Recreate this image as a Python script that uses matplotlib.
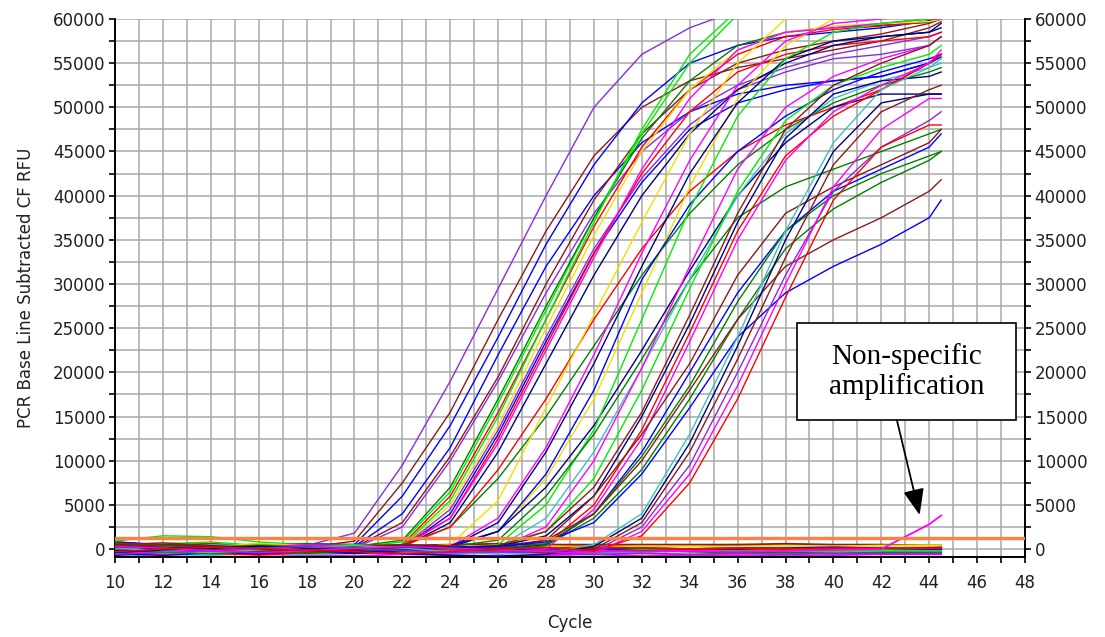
import matplotlib
matplotlib.use("Agg")
import matplotlib.pyplot as plt
from matplotlib.patches import Rectangle
from matplotlib.ticker import MultipleLocator

# shared cycle grid for every trace (in thousands of RFU)
CYCLES = [10, 12, 14, 16, 18, 20, 22, 24, 26, 28, 30, 32, 34, 36, 38, 40, 42, 44, 44.5]

PURPLE, BROWN, BLUE, GREEN, DKGREEN = "#8a2be2", "#8b1a1a", "#0000ff", "#00ee00", "#008000"
RED, YELLOW, MAGENTA, NAVY, CYAN = "#ff0000", "#f0e000", "#ff00ff", "#000080", "#40c0c0"

AMP_COLORS = [
    PURPLE, BROWN, BLUE, BLUE, BROWN, PURPLE, GREEN, DKGREEN, RED, YELLOW,
    GREEN, PURPLE, BLUE, RED, MAGENTA, NAVY, DKGREEN, RED, YELLOW, YELLOW,
    MAGENTA, NAVY, BLUE, NAVY, GREEN, DKGREEN, CYAN, MAGENTA, GREEN, BROWN,
    NAVY, RED, MAGENTA, BLUE, BROWN, DKGREEN, DKGREEN, BROWN, BLUE, CYAN,
    NAVY, BROWN, PURPLE, MAGENTA, RED,
]
AMP_RFU_K = [
    [0.6, 0.3, -0.2, 0.1, 0.4, 1.8, 9.5, 19, 29.5, 40, 50, 56, 59, 61, 62, 62, 62, 62, 62],
    [0.2, 0.5, 0.3, -0.1, 0.2, 0.9, 7.5, 15.5, 26, 36, 44.5, 50, 53, 54.5, 55.5, 56.5, 57.5, 59, 59.7],
    [-0.3, 0.1, 0.4, 0.2, -0.2, 0.5, 6, 14, 24, 34.5, 43.5, 50.5, 55, 57, 58, 58.5, 59, 59.8, 60],
    [0.8, 0.5, 0.2, 0.5, 0.1, 0.3, 4, 11.5, 22, 32, 40, 46, 49.5, 51.5, 52.5, 53, 53.5, 55, 55.7],
    [0.1, -0.4, -0.2, 0.3, 0.5, 0.2, 3, 10.5, 19.5, 30, 39.5, 47, 52, 55, 56.5, 57.5, 58.3, 59.5, 60],
    [-0.5, -0.2, 0.2, 0.6, 0.3, 0.1, 2.5, 10, 19, 29, 38, 45, 49.5, 52.5, 54.5, 56, 57, 58, 58.5],
    [0.9, 1.5, 1.4, 0.8, 0.5, 0.2, 0.8, 6.5, 16.5, 27, 37.5, 47, 55, 60.5, 62, 62, 62, 62, 62],
    [0.3, 0.1, -0.3, -0.1, 0.2, 0.3, 1, 7, 17, 27.5, 37.5, 46.5, 53, 57, 58.5, 59, 59.3, 59.6, 60],
    [-0.4, -0.6, -0.2, 0.1, 0.4, 0.2, 0.5, 6, 15.5, 26, 36.5, 45.5, 52, 56, 58, 58.8, 59.2, 59.7, 60],
    [0.4, 0.2, 0.1, -0.3, -0.5, -0.2, 0.3, 5, 14, 25, 35.5, 45, 52, 56.5, 58.5, 59.2, 59.5, 59.7, 60],
    [0.2, 0.6, 0.8, 0.4, 0.1, -0.2, 0.3, 5.5, 15, 26, 37, 47.5, 56, 61, 62, 62, 62, 62, 62],
    [0.5, 0.2, -0.1, -0.4, -0.2, 0.1, 0.2, 4.5, 13.5, 24, 34, 42, 48, 52, 54, 55.5, 56, 57, 58],
    [-0.2, 0.3, 0.5, 0.1, -0.3, -0.1, 0.1, 4, 13, 23.5, 33.5, 41.5, 47.5, 50.5, 52, 53, 53.5, 55, 56],
    [0.7, 0.4, 0.6, 0.2, 0.3, 0.5, 0.4, 3.5, 12.5, 23, 33.5, 42.5, 49.5, 54, 56, 57, 57.5, 58, 58.5],
    [-0.6, -0.3, 0.1, 0.3, 0.1, -0.2, 0.2, 3.5, 12, 22.5, 33, 43, 51, 56.5, 58.5, 59, 59.5, 60, 60],
    [0.1, -0.1, -0.4, -0.6, -0.3, 0, 0.2, 3, 11, 21, 31, 40, 47, 52, 55, 57, 58, 58.5, 59],
    [0.3, 0.5, 0.2, 0.4, 0.6, 0.3, 0.4, 2.5, 8, 15, 23, 31, 38, 43.5, 47.5, 50.5, 52.5, 54, 54.5],
    [-0.1, 0.2, 0.4, 0.1, -0.2, 0.1, 0.3, 2.5, 9, 17, 26, 34, 40.5, 45, 48, 50, 52, 55, 56],
    [0.2, -0.2, -0.5, -0.3, 0.1, 0.3, 0.1, 0.5, 5.5, 16, 26.5, 37, 47, 55, 60, 62, 62, 62, 62],
    [-0.3, 0.1, 0.3, 0.6, 0.4, 0.2, 0.1, 0.2, 2, 8, 17, 29, 41, 51, 57, 60, 61, 62, 62],
    [0.2, 0.4, 0.1, -0.2, -0.4, -0.1, 0.1, 0.3, 3.5, 11.5, 22, 33.5, 44, 52.5, 57.5, 59.5, 60, 60.5, 61],
    [-0.7, -0.4, -0.1, 0.2, 0.4, 0.2, 0, 0.2, 3, 11, 21, 32, 42.5, 50.5, 55.5, 57.5, 58, 58.5, 59.5],
    [0.4, 0.1, -0.3, -0.5, -0.2, 0.1, 0.3, 0.4, 2, 8.5, 18, 30.5, 39, 45, 49, 52, 54, 55.5, 56],
    [0.1, 0.3, 0.5, 0.2, -0.1, -0.3, -0.1, 0.2, 2, 7, 14, 22.5, 31.5, 40, 46, 50, 51.5, 51.5, 51.5],
    [-0.2, -0.5, -0.3, 0.1, 0.3, 0.5, 0.2, 0, 0.5, 5, 13.5, 26, 38.5, 49, 55.5, 58.5, 59.5, 60, 60.5],
    [0.6, 0.3, 0.1, -0.2, 0, 0.3, 0.5, 0.3, 1, 6, 13, 21.5, 30.5, 37.5, 41, 43, 45, 47, 47.5],
    [-0.1, 0.2, 0.5, 0.3, 0.1, -0.2, -0.4, -0.2, 0.2, 3.5, 11, 20.5, 30.5, 40, 47, 51, 53, 54.5, 55.5],
    [0.3, 0, -0.3, -0.1, 0.2, 0.4, 0.1, -0.2, 0.1, 2.5, 10, 20.5, 32, 43, 50, 53.5, 55.5, 57, 58],
    [-0.4, -0.1, 0.2, 0.5, 0.3, 0, -0.3, -0.1, 0.2, 2, 8, 18, 29.5, 40.5, 48.5, 52.5, 54.5, 56, 57],
    [0.5, 0.7, 0.4, 0.1, -0.2, -0.4, -0.1, 0.2, 0.4, 2, 7, 15.5, 26.5, 38, 47.5, 52.5, 55, 57, 58],
    [-0.2, 0.1, 0.3, 0, -0.3, -0.5, -0.2, 0.1, 0.3, 1.5, 6, 15, 25.5, 37, 46.5, 51.5, 53, 53.5, 54],
    [0.1, -0.2, -0.5, -0.7, -0.4, -0.1, 0.2, 0.4, 0.1, 0.5, 5, 13.5, 24.5, 36, 44.5, 49, 52, 55, 56],
    [-0.5, -0.3, 0, 0.2, 0.5, 0.3, 0.1, -0.2, -0.4, 0, 4.5, 12.5, 23.5, 35, 44, 49.5, 52.5, 55, 56.5],
    [0.3, 0.1, -0.2, -0.4, -0.1, 0.2, 0.4, 0.2, 0, 0.5, 4, 11, 20, 29, 36, 40.5, 43, 45.5, 47],
    [-0.3, -0.1, 0.2, 0.4, 0.2, 0, -0.2, 0.1, 0.3, 1, 6, 13, 21, 31, 38, 41, 43.5, 46, 47.5],
    [0.2, 0.4, 0.1, -0.2, -0.5, -0.3, 0, 0.2, 0.1, 0.6, 4, 10.5, 18.5, 28, 36, 40, 42.5, 44.5, 45],
    [-0.1, -0.3, -0.5, -0.2, 0.1, 0.3, 0.2, 0, -0.2, 0.4, 3.5, 9, 17, 26, 34, 38.5, 41.5, 44, 45],
    [0.4, 0.2, 0, -0.3, -0.1, 0.2, 0.5, 0.3, 0.1, 1, 4, 10, 18, 26, 32, 35, 37.5, 40.5, 41.8],
    [-0.2, 0, 0.3, 0.1, -0.2, -0.4, -0.1, 0.2, 0.3, 0.8, 3, 8.5, 16, 24, 29, 32, 34.5, 37.5, 39.5],
    [0.1, -0.2, -0.4, -0.1, 0.2, 0.4, 0.1, -0.3, -0.6, -0.4, 0.5, 4, 13, 24, 36, 46, 52, 54.5, 55],
    [-0.4, -0.1, 0.1, 0.3, 0.1, -0.2, -0.5, -0.7, -0.8, -0.6, 0.3, 3.5, 12, 23, 35, 45, 50.5, 51.5, 51.5],
    [0.2, 0.5, 0.3, 0, -0.3, -0.1, 0.2, 0.1, -0.2, -0.4, 0, 3, 11, 21.5, 33, 43.5, 49.5, 52, 52.5],
    [-0.6, -0.4, -0.2, 0.1, 0.3, 0.1, -0.2, -0.4, -0.3, -0.1, -0.2, 2.5, 9.5, 20, 31, 40.5, 45.5, 48.5, 49.5],
    [0.3, 0.1, -0.2, -0.4, -0.2, 0.1, 0.3, 0.1, -0.1, -0.3, -0.5, 2, 8.5, 18.5, 30, 41, 47.5, 51, 51],
    [-0.3, 0, 0.2, 0.1, -0.1, -0.3, -0.5, -0.3, 0, 0.2, -0.2, 1.5, 7.5, 17, 28.5, 39.5, 45.5, 48, 48],
]

# wells that never amplify, plus the one late non-specific trace
FLAT_COLORS = [YELLOW, GREEN, BLUE, MAGENTA, RED, BROWN, NAVY, CYAN, DKGREEN, PURPLE,
               GREEN, YELLOW, BLUE, RED, MAGENTA]
FLAT_RFU_K = [
    [0.5, 0.6, 0.3, 0.2, 0.4, 0.5, 0.3, 0.2, 0.4, 0.5, 0.4, 0.3, 0.4, 0.5, 0.4, 0.4, 0.4, 0.4, 0.4],
    [-0.2, -0.1, 0.1, -0.3, -0.4, -0.2, -0.3, -0.4, -0.3, -0.2, -0.3, -0.3, -0.2, -0.3, -0.4, -0.3, -0.3, -0.3, -0.3],
    [0.8, 0.4, 0.1, 0.2, 0, -0.1, 0.1, 0, -0.1, 0, 0.1, 0, 0, 0.1, 0, -0.1, 0, 0.1, 0.2],
    [-0.7, -0.5, -0.3, -0.6, -0.7, -0.8, -0.6, -0.7, -0.8, -0.7, -0.6, -0.8, -0.7, -0.7, -0.8, -0.7, -0.6, -0.6, -0.6],
    [0.3, -0.5, -0.6, -0.2, 0.1, 0.2, -0.1, 0, 0.1, -0.1, 0, 0.1, 0, -0.1, 0, 0.1, 0, 0, 0],
    [0.1, 0.3, 0.2, 0.4, 0.6, 0.5, 0.4, 0.5, 0.6, 0.5, 0.5, 0.5, 0.5, 0.5, 0.6, 0.5, 0.5, 0.4, 0.4],
    [-0.4, -0.2, 0, 0.1, -0.1, -0.2, -0.3, -0.1, -0.2, -0.2, -0.1, -0.2, -0.1, -0.1, -0.2, -0.1, 0, 0.1, 0.1],
    [-0.8, -0.6, -0.7, -0.5, -0.6, -0.5, -0.4, -0.5, -0.4, -0.3, -0.4, -0.3, -0.2, -0.3, -0.2, -0.2, -0.3, -0.2, -0.2],
    [0.2, 0.4, 0.6, 0.3, 0.1, 0.2, 0, 0.1, -0.1, -0.2, -0.3, -0.2, -0.3, -0.4, -0.4, -0.5, -0.4, -0.4, -0.4],
    [0.6, 0.4, 0.3, 0.1, -0.2, -0.4, -0.5, -0.4, -0.3, -0.5, -0.6, -0.5, -0.6, -0.5, -0.6, -0.5, -0.5, -0.5, -0.5],
    [0.1, 0.2, 0.4, 0.2, 0, -0.1, 0.1, 0.2, 0.1, 0, -0.1, 0, -0.1, -0.2, -0.1, -0.2, -0.1, -0.1, -0.1],
    [0, 0.2, -0.1, -0.3, -0.1, 0.1, 0.2, 0.1, 0.2, 0.3, 0.2, 0.3, 0.3, 0.2, 0.3, 0.3, 0.4, 0.4, 0.4],
    [-0.5, -0.7, -0.4, -0.2, -0.3, -0.1, 0, -0.2, -0.1, 0, -0.1, 0.1, 0, 0.1, 0.1, 0.2, 0.1, 0, 0],
    [0.4, 0.1, 0.3, 0.5, 0.3, 0.2, 0.3, 0.1, 0.2, 0.1, 0.2, 0.1, 0, 0.1, 0, 0.1, 0.1, 0.1, 0.1],
    [-0.3, -0.5, -0.2, -0.4, -0.3, -0.2, -0.4, -0.3, -0.2, -0.3, -0.2, -0.3, -0.2, -0.3, -0.2, -0.1, 0, 2.8, 3.8],
]

THRESHOLD = 1200
NOTE = "Non-specific\namplification"
NOTE_TARGET = (43.6, 3850)

fig = plt.figure(figsize=(11.05, 6.37), dpi=100)
ax = fig.add_axes([0.1041, 0.1256, 0.8235, 0.8446])

for col, vals in zip(FLAT_COLORS, FLAT_RFU_K):
    ax.plot(CYCLES, [v * 1000 for v in vals], color=col, lw=1.3, zorder=2)
for col, vals in zip(AMP_COLORS, AMP_RFU_K):
    ax.plot(CYCLES, [v * 1000 for v in vals], color=col, lw=1.0, zorder=3)

ax.axhline(THRESHOLD, color="#ff8040", lw=2.4, zorder=4)

ax.set_xlim(10, 48)
ax.set_ylim(-900, 60000)
ax.xaxis.set_major_locator(MultipleLocator(2))
ax.xaxis.set_minor_locator(MultipleLocator(1))
ax.yaxis.set_major_locator(MultipleLocator(5000))
ax.yaxis.set_minor_locator(MultipleLocator(2500))
ax.grid(True, which="both", color="#a8a8a8", lw=1.1, zorder=0)
ax.set_axisbelow(True)

ax.tick_params(which="both", direction="out", length=4, width=1.2, color="black",
               left=True, right=True, labelright=True, bottom=True, top=False)
ax.tick_params(which="major", labelsize=12, pad=3, labelcolor="#202020")
ax.tick_params(axis="x", which="major", pad=8)
for s in ("left", "right", "bottom"):
    ax.spines[s].set_color("black")
    ax.spines[s].set_linewidth(1.4)
ax.spines["top"].set_visible(False)

ax.set_xlabel("Cycle", fontsize=12, color="#202020", labelpad=16)
ax.set_ylabel("PCR Base Line Subtracted CF RFU", fontsize=12, color="#202020", labelpad=13)

# annotation box with arrow to the late trace
ax.add_patch(Rectangle((38.48, 14600), 9.14, 10980, facecolor="white",
                       edgecolor="black", lw=1.2, zorder=6))
ax.text(43.05, 20100, NOTE, ha="center", va="center", fontsize=21,
        family="Liberation Serif", linespacing=1.15, zorder=7)
ax.annotate("", xy=NOTE_TARGET, xytext=(42.65, 14600),
            arrowprops=dict(arrowstyle="-|>,head_length=1.0,head_width=0.4",
                            mutation_scale=16, color="black", lw=1.3,
                            shrinkA=0, shrinkB=0), zorder=7)

fig.savefig("out.png", dpi=100)
